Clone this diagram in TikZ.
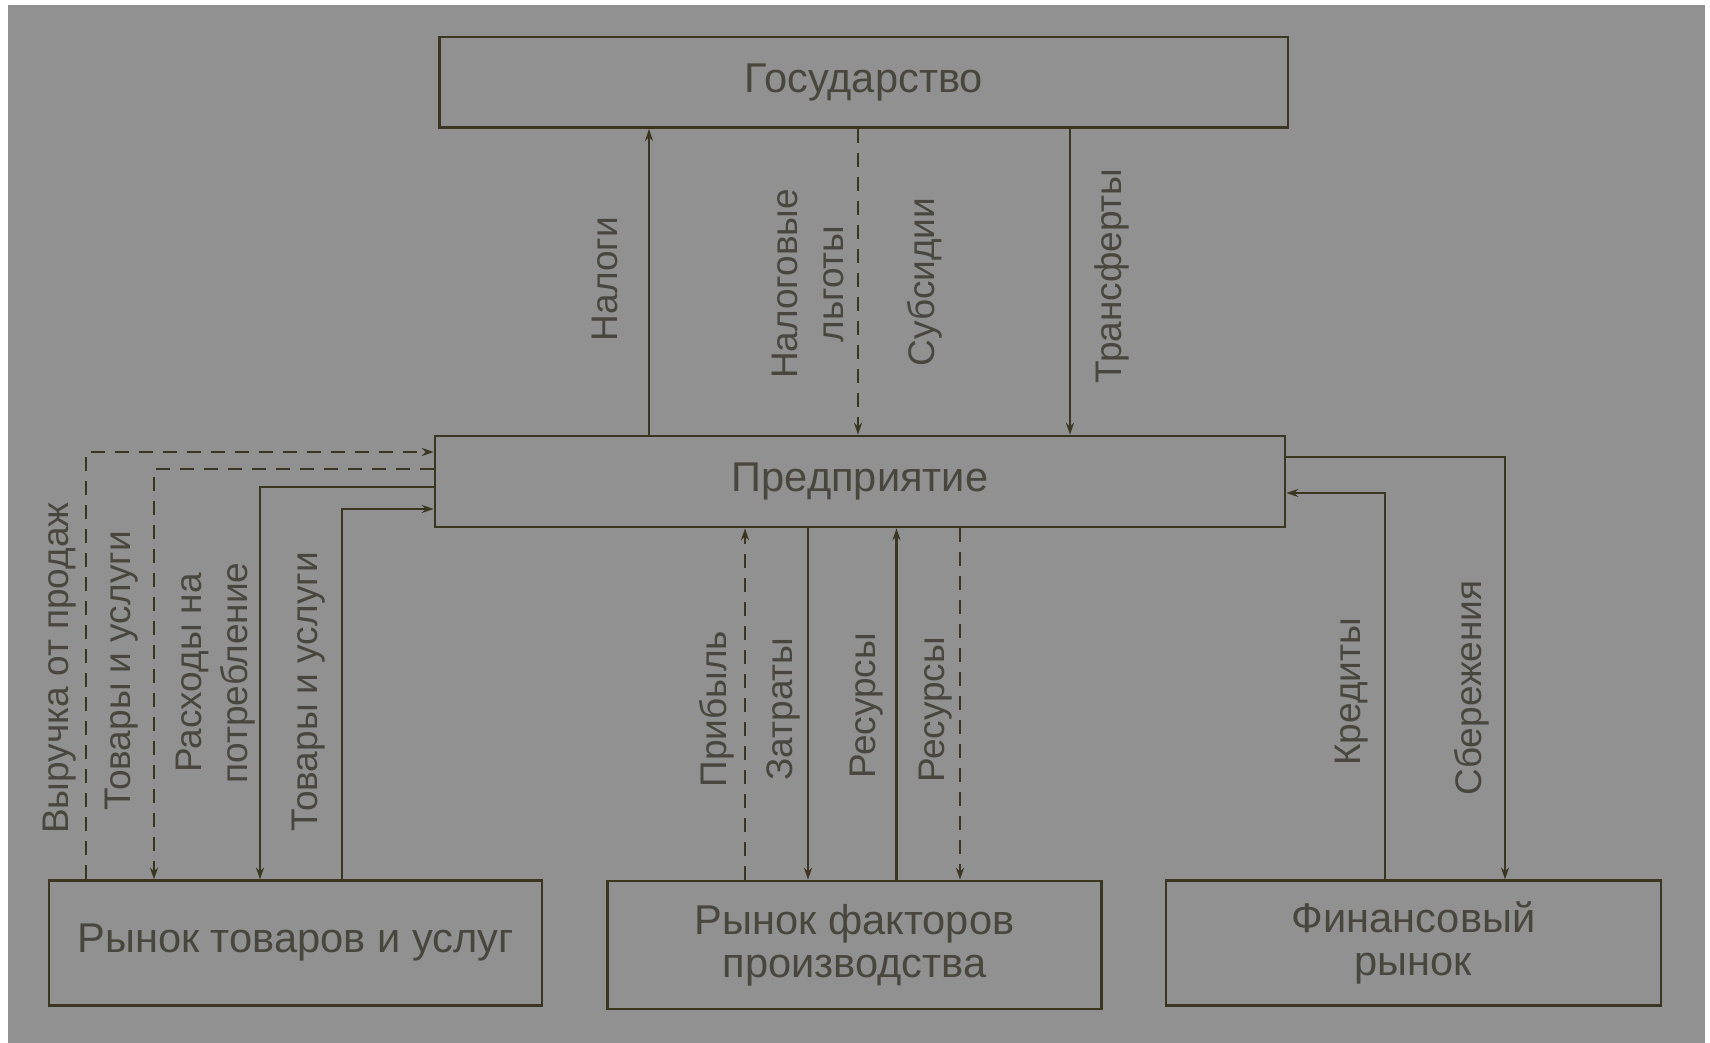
\documentclass[tikz,border=0pt]{standalone}
\usepackage{fontspec}
\setmainfont{Liberation Sans}
\usetikzlibrary{arrows.meta}
\definecolor{bggray}{HTML}{919191}
\definecolor{linec}{HTML}{3B3622}
\definecolor{textc}{HTML}{48463D}
\begin{document}
\begin{tikzpicture}[x=0.5pt,y=-0.5pt,
  box/.style={draw=linec,line width=1.3pt,inner sep=0pt,text=textc,align=center,
    font=\fontsize{20.8}{21.5}\selectfont},
  lab/.style={rotate=90,text=textc,align=center,inner sep=0pt,
    font=\fontsize{18.5}{23}\selectfont},
  conn/.style={draw=linec,line width=1.2pt},
  arr/.style={conn,-{Stealth[length=6pt,width=4pt]}},
  dsh/.style={dash pattern=on 7pt off 5pt}]
\useasboundingbox (0,0) rectangle (1710,1043);
\fill[white] (0,0) rectangle (1710,1043);
\fill[bggray] (8,5) rectangle (1705,1043);
% boxes
\node[box,minimum width=424.25pt,minimum height=45.3pt] (gov) at (863.75,82.3) {Государство};
\node[box,minimum width=425pt,minimum height=45.5pt] (pred) at (860,481.5) {Предприятие};
\node[box,minimum width=246.5pt,minimum height=62.25pt] (goods) at (295.5,943) {Рынок товаров и услуг};
\node[box,minimum width=247pt,minimum height=64pt] (fact) at (854.5,945) {Рынок факторов\\производства};
\node[box,minimum width=247.5pt,minimum height=62.25pt] (fin) at (1413.5,943) {Финансовый\\рынок};
% x / y positions of connectors
\coordinate (xNal) at (649,0);
\coordinate (xLg) at (858,0);
\coordinate (xTr) at (1070,0);
\coordinate (xV) at (86,0);   \coordinate (yV) at (0,452);
\coordinate (xT1) at (154,0); \coordinate (yT1) at (0,469);
\coordinate (xR) at (260,0);  \coordinate (yR) at (0,487);
\coordinate (xT2) at (342,0); \coordinate (yT2) at (0,509);
\coordinate (xP) at (745,0);
\coordinate (xZ) at (808,0);
\coordinate (xRs) at (896.5,0);
\coordinate (xRd) at (960,0);
\coordinate (xS) at (1505,0); \coordinate (yS) at (0,457);
\coordinate (xK) at (1385,0); \coordinate (yK) at (0,493);
% government <-> enterprise
\draw[arr] (pred.north -| xNal) -- (gov.south -| xNal);
\draw[arr,dsh] (gov.south -| xLg) -- (pred.north -| xLg);
\draw[arr] (gov.south -| xTr) -- (pred.north -| xTr);
% goods market
\draw[arr,dsh] (goods.north -| xV) |- (pred.west |- yV);
\draw[arr,dsh] (pred.west |- yT1) -| (goods.north -| xT1);
\draw[arr] (pred.west |- yR) -| (goods.north -| xR);
\draw[arr] (goods.north -| xT2) |- (pred.west |- yT2);
% factor market
\draw[arr,dsh] (fact.north -| xP) -- (pred.south -| xP);
\draw[arr] (pred.south -| xZ) -- (fact.north -| xZ);
\draw[arr] (fact.north -| xRs) -- (pred.south -| xRs);
\draw[arr,dsh] (pred.south -| xRd) -- (fact.north -| xRd);
% financial market
\draw[arr] (pred.east |- yS) -| (fin.north -| xS);
\draw[arr] (fin.north -| xK) |- (pred.east |- yK);
% labels
\node[lab] (lNal) at (605,279) {Налоги};
\node[lab] (lLg) at (807.5,284) {Налоговые\\льготы};
\node[lab] (lSub) at (925,282) {Субсидии};
\node[lab] (lTr) at (1112,276) {Трансферты};
\node[lab] (lV) at (60,668) {Выручка от продаж};
\node[lab] (lT1) at (122,671) {Товары и услуги};
\node[lab] (lR) at (215.5,673) {Расходы на\\потребление};
\node[lab] (lT2) at (309,692) {Товары и услуги};
\node[lab] (lP) at (717,709) {Прибыль};
\node[lab] (lZ) at (783,709) {Затраты};
\node[lab] (lRs) at (867,706) {Ресурсы};
\node[lab] (lRd) at (936,710) {Ресурсы};
\node[lab] (lK) at (1352,692) {Кредиты};
\node[lab] (lS) at (1472,688) {Сбережения};
\end{tikzpicture}
\end{document}
